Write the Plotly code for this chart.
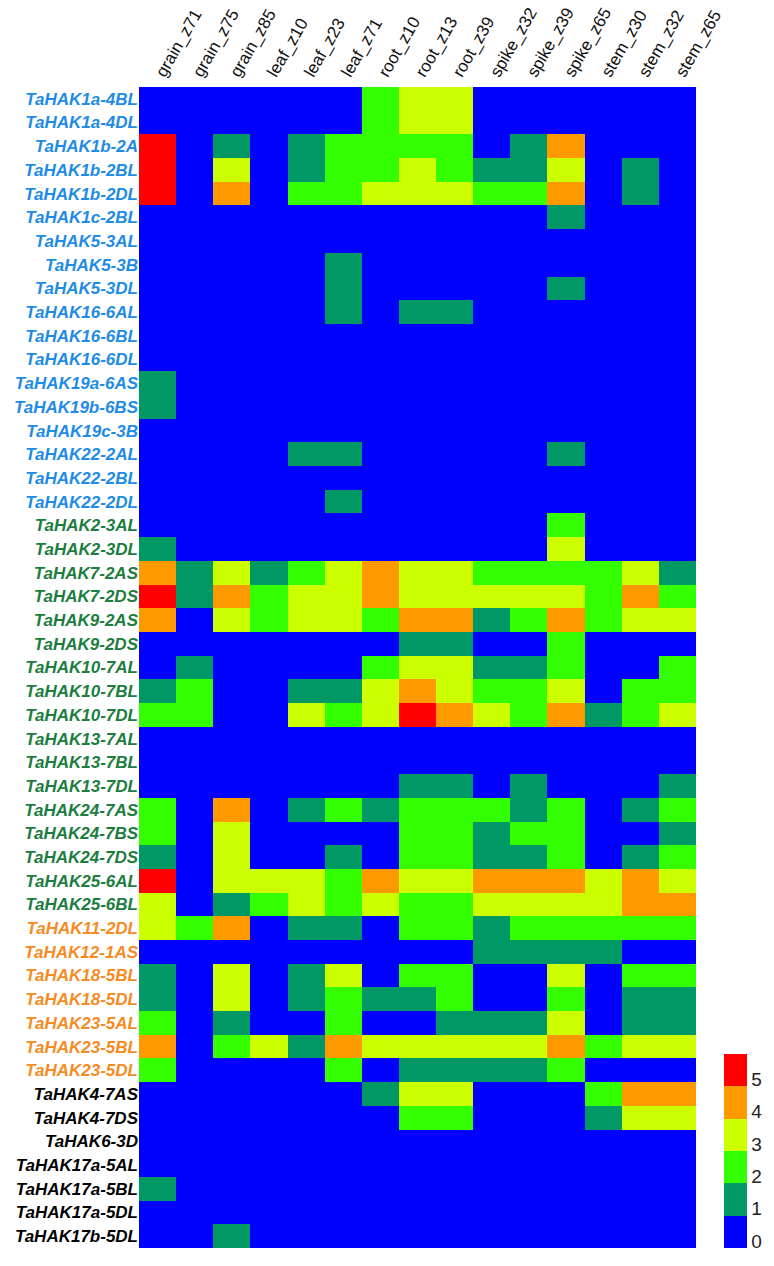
import plotly.graph_objects as go

tissues = ["grain_z71", "grain_z75", "grain_z85", "leaf_z10", "leaf_z23", "leaf_z71",
           "root_z10", "root_z13", "root_z39", "spike_z32", "spike_z39", "spike_z65",
           "stem_z30", "stem_z32", "stem_z65"]

genes = ["TaHAK1a-4BL", "TaHAK1a-4DL", "TaHAK1b-2A", "TaHAK1b-2BL", "TaHAK1b-2DL",
         "TaHAK1c-2BL", "TaHAK5-3AL", "TaHAK5-3B", "TaHAK5-3DL", "TaHAK16-6AL",
         "TaHAK16-6BL", "TaHAK16-6DL", "TaHAK19a-6AS", "TaHAK19b-6BS", "TaHAK19c-3B",
         "TaHAK22-2AL", "TaHAK22-2BL", "TaHAK22-2DL",
         "TaHAK2-3AL", "TaHAK2-3DL", "TaHAK7-2AS", "TaHAK7-2DS", "TaHAK9-2AS",
         "TaHAK9-2DS", "TaHAK10-7AL", "TaHAK10-7BL", "TaHAK10-7DL", "TaHAK13-7AL",
         "TaHAK13-7BL", "TaHAK13-7DL", "TaHAK24-7AS", "TaHAK24-7BS", "TaHAK24-7DS",
         "TaHAK25-6AL", "TaHAK25-6BL",
         "TaHAK11-2DL", "TaHAK12-1AS", "TaHAK18-5BL", "TaHAK18-5DL", "TaHAK23-5AL",
         "TaHAK23-5BL", "TaHAK23-5DL",
         "TaHAK4-7AS", "TaHAK4-7DS", "TaHAK6-3D", "TaHAK17a-5AL", "TaHAK17a-5BL",
         "TaHAK17a-5DL", "TaHAK17b-5DL"]

# clade group of each gene (label colour)
groups = ["I"] * 18 + ["II"] * 17 + ["III"] * 7 + ["IV"] * 7
group_colors = {"I": "#1E8BE6", "II": "#1B7D3E", "III": "#F68B1F", "IV": "#000000"}

# expression level class (0..5) per gene (rows) and tissue (columns)
levels = [
    [0,0,0,0,0,0,2,3,3,0,0,0,0,0,0],
    [0,0,0,0,0,0,2,3,3,0,0,0,0,0,0],
    [5,0,1,0,1,2,2,2,2,0,1,4,0,0,0],
    [5,0,3,0,1,2,2,3,2,1,1,3,0,1,0],
    [5,0,4,0,2,2,3,3,3,2,2,4,0,1,0],
    [0,0,0,0,0,0,0,0,0,0,0,1,0,0,0],
    [0,0,0,0,0,0,0,0,0,0,0,0,0,0,0],
    [0,0,0,0,0,1,0,0,0,0,0,0,0,0,0],
    [0,0,0,0,0,1,0,0,0,0,0,1,0,0,0],
    [0,0,0,0,0,1,0,1,1,0,0,0,0,0,0],
    [0,0,0,0,0,0,0,0,0,0,0,0,0,0,0],
    [0,0,0,0,0,0,0,0,0,0,0,0,0,0,0],
    [1,0,0,0,0,0,0,0,0,0,0,0,0,0,0],
    [1,0,0,0,0,0,0,0,0,0,0,0,0,0,0],
    [0,0,0,0,0,0,0,0,0,0,0,0,0,0,0],
    [0,0,0,0,1,1,0,0,0,0,0,1,0,0,0],
    [0,0,0,0,0,0,0,0,0,0,0,0,0,0,0],
    [0,0,0,0,0,1,0,0,0,0,0,0,0,0,0],
    [0,0,0,0,0,0,0,0,0,0,0,2,0,0,0],
    [1,0,0,0,0,0,0,0,0,0,0,3,0,0,0],
    [4,1,3,1,2,3,4,3,3,2,2,2,2,3,1],
    [5,1,4,2,3,3,4,3,3,3,3,3,2,4,2],
    [4,0,3,2,3,3,2,4,4,1,2,4,2,3,3],
    [0,0,0,0,0,0,0,1,1,0,0,2,0,0,0],
    [0,1,0,0,0,0,2,3,3,1,1,2,0,0,2],
    [1,2,0,0,1,1,3,4,3,2,2,3,0,2,2],
    [2,2,0,0,3,2,3,5,4,3,2,4,1,2,3],
    [0,0,0,0,0,0,0,0,0,0,0,0,0,0,0],
    [0,0,0,0,0,0,0,0,0,0,0,0,0,0,0],
    [0,0,0,0,0,0,0,1,1,0,1,0,0,0,1],
    [2,0,4,0,1,2,1,2,2,2,1,2,0,1,2],
    [2,0,3,0,0,0,0,2,2,1,2,2,0,0,1],
    [1,0,3,0,0,1,0,2,2,1,1,2,0,1,2],
    [5,0,3,3,3,2,4,3,3,4,4,4,3,4,3],
    [3,0,1,2,3,2,3,2,2,3,3,3,3,4,4],
    [3,2,4,0,1,1,0,2,2,1,2,2,2,2,2],
    [0,0,0,0,0,0,0,0,0,1,1,1,1,0,0],
    [1,0,3,0,1,3,0,2,2,0,0,3,0,2,2],
    [1,0,3,0,1,2,1,1,2,0,0,2,0,1,1],
    [2,0,1,0,0,2,0,0,1,1,1,3,0,1,1],
    [4,0,2,3,1,4,3,3,3,3,3,4,2,3,3],
    [2,0,0,0,0,2,0,1,1,1,1,2,0,0,0],
    [0,0,0,0,0,0,1,3,3,0,0,0,2,4,4],
    [0,0,0,0,0,0,0,2,2,0,0,0,1,3,3],
    [0,0,0,0,0,0,0,0,0,0,0,0,0,0,0],
    [0,0,0,0,0,0,0,0,0,0,0,0,0,0,0],
    [1,0,0,0,0,0,0,0,0,0,0,0,0,0,0],
    [0,0,0,0,0,0,0,0,0,0,0,0,0,0,0],
    [0,0,1,0,0,0,0,0,0,0,0,0,0,0,0],
]

colorbar_labels = [0, 1, 2, 3, 4, 5]
band_colors = ["#0000FF", "#009966", "#33FF00", "#CCFF00", "#FF9900", "#FF0000"]

n = len(band_colors)
colorscale = []
for i, c in enumerate(band_colors):
    colorscale.append([i / n, c])
    colorscale.append([(i + 1) / n, c])

z = [[v + 0.5 for v in row] for row in levels]

fig = go.Figure(go.Heatmap(
    z=z, x=tissues, y=genes,
    zmin=0, zmax=n,
    colorscale=colorscale,
    xgap=0, ygap=0,
    colorbar=dict(
        x=1.05, xanchor="left", xref="paper",
        y=0, yanchor="bottom",
        lenmode="pixels", len=194,
        thickness=23, thicknessmode="pixels",
        outlinewidth=0,
        tickvals=[t + 0.22 for t in colorbar_labels],
        ticktext=[str(t) for t in colorbar_labels],
        ticks="", ticklabelposition="outside",
        tickfont=dict(family="Liberation Sans, Arial", size=19, color="#222"),
        xpad=0, ypad=0,
    ),
))

ticktext = [f"<span style='color:{group_colors[g]}'>{name}</span>" for name, g in zip(genes, groups)]

fig.update_yaxes(
    autorange="reversed", automargin=False,
    tickmode="array", tickvals=genes, ticktext=ticktext,
    tickfont=dict(family="Liberation Sans, Arial", size=17, weight="bold", style="italic"),
    ticks="", showgrid=False, zeroline=False, showline=False,
)
fig.update_xaxes(
    side="top", tickangle=-60, automargin=False,
    tickfont=dict(family="Liberation Sans, Arial", size=17, color="#111"),
    ticks="", showgrid=False, zeroline=False, showline=False,
)

fig.update_layout(
    width=774, height=1266,
    margin=dict(l=139, r=78, t=87, b=18, autoexpand=False),
    paper_bgcolor="white", plot_bgcolor="white",
)

# remove the default page margin so the figure fills the window exactly
fig.write_html("out.html", config={"displayModeBar": False},
               post_script="document.body.style.margin='0';")
